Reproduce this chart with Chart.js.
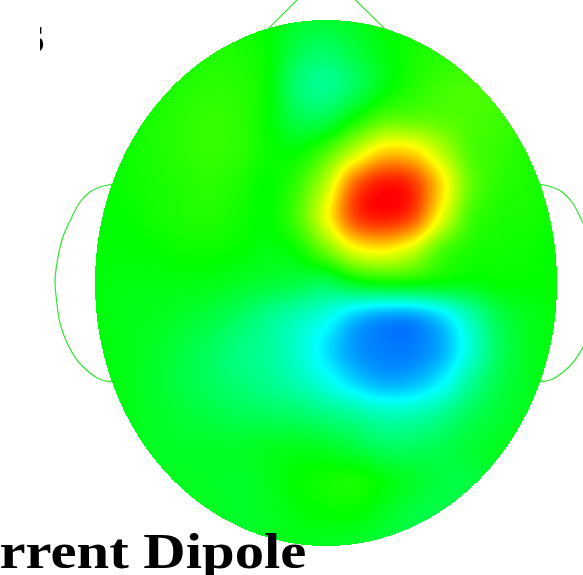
<!DOCTYPE html>
<html>
<head>
<meta charset="utf-8">
<script src="https://cdn.jsdelivr.net/npm/chart.js@4.4.1/dist/chart.umd.min.js"></script>
<style>
  html, body { margin: 0; padding: 0; background: #fff; overflow: hidden; }
  canvas { display: block; }
</style>
</head>
<body>
<canvas id="topo" width="583" height="575"></canvas>
<script>
// grid positions on the unit head (x: left -> right, y: top -> bottom)
const gridX = [-1, -0.875, -0.75, -0.625, -0.5, -0.375, -0.25, -0.125, 0, 0.125, 0.25, 0.375, 0.5, 0.625, 0.75, 0.875, 1];
const gridY = [1, 0.875, 0.75, 0.625, 0.5, 0.375, 0.25, 0.125, 0, -0.125, -0.25, -0.375, -0.5, -0.625, -0.75, -0.875, -1];

// potential, -1 (blue) .. 0 (green) .. 1 (red), one row per gridY
const field = [
  [0.02, 0.02, 0.03, 0.04, 0.05, 0.04, 0.00, -0.08, -0.10, -0.06, 0.00, 0.04, 0.06, 0.06, 0.05, 0.04, 0.03],
  [0.02, 0.03, 0.04, 0.05, 0.06, 0.05, 0.00, -0.15, -0.20, -0.12, -0.03, 0.04, 0.07, 0.08, 0.07, 0.05, 0.04],
  [0.02, 0.03, 0.04, 0.06, 0.08, 0.07, 0.00, -0.22, -0.28, -0.18, -0.03, 0.06, 0.12, 0.14, 0.12, 0.08, 0.05],
  [0.02, 0.03, 0.05, 0.08, 0.10, 0.08, 0.00, -0.14, -0.14, 0.02, 0.16, 0.18, 0.17, 0.14, 0.12, 0.08, 0.05],
  [0.01, 0.02, 0.05, 0.08, 0.10, 0.08, 0.02, 0.00, 0.14, 0.38, 0.58, 0.56, 0.36, 0.15, 0.10, 0.06, 0.04],
  [0.00, 0.02, 0.04, 0.06, 0.08, 0.05, 0.00, 0.10, 0.37, 0.80, 0.96, 0.90, 0.56, 0.20, 0.08, 0.05, 0.03],
  [0.00, 0.00, 0.03, 0.05, 0.06, 0.03, 0.00, 0.14, 0.47, 0.86, 0.95, 0.85, 0.46, 0.13, 0.05, 0.04, 0.02],
  [0.00, -0.01, 0.00, 0.02, 0.02, 0.00, -0.03, 0.02, 0.22, 0.46, 0.52, 0.40, 0.15, 0.05, 0.03, 0.02, 0.00],
  [-0.02, -0.03, -0.03, -0.03, -0.04, -0.07, -0.10, -0.13, -0.16, -0.05, 0.00, 0.00, -0.02, -0.03, 0.00, 0.00, 0.00],
  [-0.02, -0.04, -0.05, -0.08, -0.12, -0.18, -0.27, -0.35, -0.44, -0.60, -0.68, -0.68, -0.56, -0.34, -0.14, -0.05, -0.02],
  [-0.02, -0.04, -0.07, -0.12, -0.18, -0.25, -0.30, -0.40, -0.55, -0.70, -0.75, -0.75, -0.66, -0.42, -0.18, -0.06, -0.02],
  [-0.02, -0.04, -0.08, -0.13, -0.18, -0.23, -0.28, -0.35, -0.45, -0.58, -0.66, -0.64, -0.52, -0.30, -0.14, -0.06, -0.02],
  [-0.02, -0.04, -0.07, -0.10, -0.13, -0.16, -0.18, -0.20, -0.25, -0.30, -0.36, -0.35, -0.28, -0.17, -0.10, -0.05, -0.02],
  [-0.03, -0.05, -0.07, -0.08, -0.08, -0.08, -0.06, -0.05, -0.07, -0.12, -0.18, -0.18, -0.15, -0.10, -0.06, -0.04, -0.02],
  [-0.04, -0.05, -0.06, -0.06, -0.07, -0.08, -0.05, 0.00, 0.03, 0.04, -0.02, -0.08, -0.12, -0.12, -0.08, -0.05, -0.03],
  [-0.04, -0.05, -0.06, -0.06, -0.06, -0.08, -0.06, -0.02, 0.00, 0.00, -0.06, -0.12, -0.14, -0.12, -0.08, -0.05, -0.03],
  [-0.04, -0.05, -0.06, -0.06, -0.06, -0.07, -0.06, -0.05, -0.06, -0.08, -0.12, -0.15, -0.15, -0.12, -0.08, -0.05, -0.03],
];

// head outline pieces
const noseX = [-0.251, 0, 0.255];
const noseY = [0.966, 1.186, 0.966];
const earLeftX = [-0.926, -0.978, -1.022, -1.065, -1.100, -1.139, -1.160, -1.173, -1.165, -1.152, -1.121, -1.078, -1.022, -0.970, -0.926];
const earLeftY = [0.376, 0.365, 0.346, 0.308, 0.251, 0.175, 0.099, 0.011, -0.076, -0.152, -0.228, -0.293, -0.342, -0.369, -0.376];
const earRightX = [0.926, 0.978, 1.022, 1.065, 1.100, 1.139, 1.160, 1.173, 1.165, 1.152, 1.121, 1.078, 1.022, 0.970, 0.926];
const earRightY = [0.376, 0.365, 0.346, 0.308, 0.251, 0.175, 0.099, 0.011, -0.076, -0.152, -0.228, -0.293, -0.342, -0.369, -0.376];

const title = 'Current Dipole';
const cornerLabel = 's';

const pts = (xs, ys) => xs.map((x, i) => ({ x, y: ys[i] }));

function cr(p0, p1, p2, p3, t) {
  return p1 + 0.5 * t * (p2 - p0 + t * (2 * p0 - 5 * p1 + 4 * p2 - p3 + t * (3 * (p1 - p2) + p3 - p0)));
}

function sample(nx, ny) {
  const fi = (nx - gridX[0]) / (gridX[1] - gridX[0]);
  const fj = (gridY[0] - ny) / (gridY[0] - gridY[1]);
  const i = Math.floor(fi), j = Math.floor(fj);
  const at = (r, c) => field[Math.max(0, Math.min(field.length - 1, r))][Math.max(0, Math.min(gridX.length - 1, c))];
  const rows = [-1, 0, 1, 2].map(d => cr(at(j + d, i - 1), at(j + d, i), at(j + d, i + 1), at(j + d, i + 2), fi - i));
  return cr(rows[0], rows[1], rows[2], rows[3], fj - j);
}

// blue -> cyan -> green -> yellow -> red
function colour(v) {
  v = Math.max(-1, Math.min(1, v));
  const h = 120 * (1 - v) / 60;
  const f = h - Math.floor(h);
  switch (Math.floor(h)) {
    case 0: return [255, Math.round(255 * f), 0];
    case 1: return [Math.round(255 * (1 - f)), 255, 0];
    case 2: return [0, 255, Math.round(255 * f)];
    case 3: return [0, Math.round(255 * (1 - f)), 255];
    default: return [0, 0, 255];
  }
}

const headMap = {
  id: 'headMap',
  beforeDatasetsDraw(chart) {
    const { ctx, scales: { x, y } } = chart;
    const x0 = Math.floor(x.getPixelForValue(-1)), x1 = Math.ceil(x.getPixelForValue(1));
    const y0 = Math.floor(y.getPixelForValue(1)), y1 = Math.ceil(y.getPixelForValue(-1));
    const w = x1 - x0, h = y1 - y0;
    const off = document.createElement('canvas');
    off.width = w; off.height = h;
    const octx = off.getContext('2d');
    const img = octx.createImageData(w, h);
    for (let j = 0; j < h; j++) {
      const ny = y.getValueForPixel(y0 + j + 0.5);
      for (let i = 0; i < w; i++) {
        const nx = x.getValueForPixel(x0 + i + 0.5);
        if (nx * nx + ny * ny > 1) continue;
        const [r, g, b] = colour(sample(nx, ny));
        const k = (j * w + i) * 4;
        img.data[k] = r; img.data[k + 1] = g; img.data[k + 2] = b; img.data[k + 3] = 255;
      }
    }
    octx.putImageData(img, 0, 0);
    ctx.drawImage(off, x0, y0);
  },
  afterDraw(chart) {
    const { ctx } = chart;
    ctx.save();
    ctx.fillStyle = '#000';
    ctx.textBaseline = 'alphabetic';
    ctx.font = 'bold 50px "Liberation Serif", "Times New Roman", serif';
    // title is wider than the plain face; stretch it to the width seen in the picture
    const full = ctx.measureText('rrent Dipole').width;
    const sx = 307 / full;
    const cut = ctx.measureText('Cu').width;
    ctx.save();
    ctx.scale(sx, 1);
    ctx.fillText(title, -cut - 0.5, 568);
    ctx.restore();
    // clipped fragment of a label at the top-left
    ctx.beginPath();
    ctx.rect(40, 20, 8, 40);
    ctx.clip();
    ctx.font = 'bold 54px "Liberation Serif", serif';
    const m = ctx.measureText(cornerLabel);
    ctx.fillText(cornerLabel, 43.5 - m.actualBoundingBoxRight, 52);
    ctx.restore();
  }
};

const lineStyle = {
  showLine: true, pointRadius: 0, borderColor: '#2ee52e', borderWidth: 1.2, fill: false,
};

new Chart(document.getElementById('topo'), {
  type: 'scatter',
  data: {
    datasets: [
      { ...lineStyle, data: pts(noseX, noseY), tension: 0 },
      { ...lineStyle, data: pts(earLeftX, earLeftY), tension: 0.35 },
      { ...lineStyle, data: pts(earRightX, earRightY), tension: 0.35 },
    ],
  },
  options: {
    responsive: false, animation: false, devicePixelRatio: 1,
    layout: { padding: 0 },
    plugins: { legend: { display: false }, tooltip: { enabled: false } },
    scales: {
      x: { type: 'linear', min: -1.4113, max: 1.1126, display: false },
      y: { type: 'linear', min: -1.1103, max: 1.0760, display: false },
    },
  },
  plugins: [headMap],
});
</script>
</body>
</html>
